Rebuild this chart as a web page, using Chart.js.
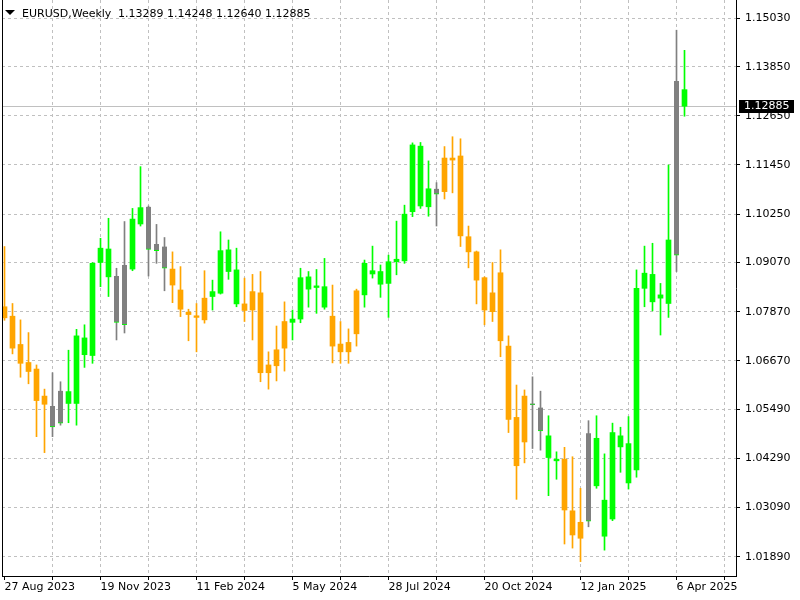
<!DOCTYPE html>
<html lang="en">
<head>
<meta charset="UTF-8">
<title>EURUSD, Weekly</title>
<script src="https://cdn.jsdelivr.net/npm/chart.js"></script>
<style>
  html, body { margin: 0; padding: 0; background: #fff; }
</style>
</head>
<body>
<canvas id="chart" width="800" height="600"></canvas>
<script>
// EURUSD weekly bars, first bar = week of 27 Aug 2023
const symbol = 'EURUSD';
const period = 'Weekly';

const openP = [1.0799,1.0776,1.0707,1.0663,1.0647,1.0561,1.0557,1.0515,1.0592,1.0563,
  1.0723,1.0680,1.0907,1.0940,1.0874,1.0755,1.0891,1.1001,1.1043,1.0936,
  1.0946,1.0891,1.0840,1.0786,1.0777,1.0767,1.0824,1.0832,1.0938,1.0889,
  1.0806,1.0791,1.0833,1.0638,1.0655,1.0698,1.0761,1.0769,1.0872,1.0846,
  1.0848,1.0776,1.0708,1.0689,1.0733,1.0828,1.0887,1.0885,1.0856,1.0909,
  1.0911,1.1031,1.1191,1.1043,1.1087,1.1080,1.1162,1.1167,1.0970,1.0933,
  1.0870,1.0787,1.0882,1.0703,1.0529,1.0469,1.0563,1.0553,1.0484,1.0427,
  1.0427,1.0301,1.0234,1.0276,1.0478,1.0239,1.0281,1.0484,1.0465,1.0401,
  1.0844,1.0878,1.0820,1.0807,1.0925,1.13289];
const highP = [1.0946,1.0807,1.0767,1.0736,1.0657,1.0598,1.0638,1.0616,1.0693,1.0744,
  1.0755,1.0907,1.0966,1.1015,1.0893,1.1007,1.1039,1.1141,1.1045,1.1000,
  1.0968,1.0933,1.0897,1.0793,1.0807,1.0887,1.0864,1.0982,1.0962,1.0942,
  1.0869,1.0878,1.0885,1.0689,1.0752,1.0811,1.0791,1.0893,1.0885,1.0890,
  1.0917,1.0852,1.0763,1.0745,1.0842,1.0913,1.0947,1.0901,1.0925,1.1008,
  1.1047,1.1199,1.1200,1.1155,1.1102,1.1190,1.1214,1.1209,1.0996,1.0935,
  1.0872,1.0907,1.0938,1.0728,1.0608,1.0596,1.0628,1.0593,1.0533,1.0445,
  1.0456,1.0433,1.0356,1.0521,1.0533,1.0440,1.0515,1.0505,1.0531,1.0889,
  1.0947,1.0954,1.0856,1.1145,1.1474,1.14248];
const lowP = [1.0766,1.0684,1.0627,1.0611,1.0482,1.0443,1.0482,1.0510,1.0516,1.0510,
  1.0651,1.0661,1.0848,1.0824,1.0718,1.0735,1.0887,1.0996,1.0874,1.0905,
  1.0838,1.0809,1.0775,1.0716,1.0689,1.0759,1.0791,1.0830,1.0866,1.0799,
  1.0763,1.0718,1.0616,1.0598,1.0618,1.0642,1.0718,1.0760,1.0798,1.0783,
  1.0793,1.0662,1.0661,1.0661,1.0703,1.0798,1.0869,1.0822,1.0773,1.0877,
  1.0905,1.1019,1.1039,1.1020,1.0996,1.1062,1.1077,1.0946,1.0894,1.0806,
  1.0755,1.0763,1.0677,1.0492,1.0329,1.0418,1.0453,1.0449,1.0338,1.0378,
  1.0220,1.0210,1.0177,1.0262,1.0356,1.0205,1.0277,1.0395,1.0354,1.0383,
  1.0799,1.0789,1.0730,1.0773,1.0885,1.12640];
const closeP = [1.0772,1.0698,1.0661,1.0641,1.0570,1.0581,1.0506,1.0594,1.0563,1.0728,
  1.0682,1.0905,1.0942,1.0872,1.0761,1.0901,1.1013,1.1041,1.0939,1.0952,
  1.0893,1.0852,1.0793,1.0780,1.0773,1.0820,1.0836,1.0936,1.0885,1.0806,
  1.0790,1.0836,1.0638,1.0657,1.0694,1.0763,1.0769,1.0870,1.0842,1.0850,
  1.0798,1.0703,1.0689,1.0712,1.0838,1.0905,1.0879,1.0854,1.0909,1.0915,
  1.1025,1.1194,1.1045,1.1087,1.1074,1.1162,1.1157,1.0972,1.0933,1.0864,
  1.0791,1.0833,1.0716,1.0524,1.0411,1.0581,1.0560,1.0496,1.0431,1.0423,
  1.0303,1.0242,1.0273,1.0490,1.0362,1.0327,1.0492,1.0457,1.0369,1.0844,
  1.0881,1.0811,1.0828,1.0962,1.1350,1.12885];

// candle state shown by the terminal: u = up, d = down, n = neutral
const signal = ['d','d','d','d','d','d','n','n','u','u',
  'u','u','u','u','n','n','u','u','n','n',
  'n','d','d','d','d','d','u','u','u','u',
  'd','d','d','d','d','d','u','u','u','u',
  'u','d','d','d','d','u','u','u','u','u',
  'u','u','u','u','n','d','d','d','d','d',
  'd','d','d','d','d','d','n','n','u','u',
  'd','d','d','n','u','u','u','u','u','u',
  'u','u','u','u','n','u'];

const xTickLabels = ['27 Aug 2023','19 Nov 2023','11 Feb 2024','5 May 2024',
  '28 Jul 2024','20 Oct 2024','12 Jan 2025','6 Apr 2025'];
const yTickValues = [1.01890,1.03090,1.04290,1.05490,1.06670,1.07870,
  1.09070,1.10250,1.11450,1.12650,1.13850,1.15030];

const colors = { u: '#00ff00', d: '#ffa500', n: '#808080' };
const FONT = 'DejaVu Sans';
const last = closeP.length - 1;

const wicks = lowP.map((l, i) => ({ x: i, y: [l, highP[i]] }));
const bodies = openP.map((o, i) => ({ x: i, y: [o, closeP[i]] }));

// frame, bid line, price tag and the header text
const terminal = {
  id: 'terminal',
  beforeDatasetsDraw(chart) {
    const { ctx, chartArea, scales } = chart;
    const y = Math.round(scales.y.getPixelForValue(closeP[last])) + 0.5;
    ctx.save();
    ctx.strokeStyle = '#c0c0c0';
    ctx.lineWidth = 1;
    ctx.beginPath();
    ctx.moveTo(chartArea.left, y);
    ctx.lineTo(chartArea.right, y);
    ctx.stroke();
    ctx.restore();
  },
  afterDraw(chart) {
    const { ctx, chartArea, scales } = chart;
    ctx.save();
    ctx.strokeStyle = '#000';
    ctx.lineWidth = 1;
    ctx.beginPath();
    ctx.moveTo(2.5, 0);
    ctx.lineTo(2.5, chartArea.bottom);
    ctx.stroke();

    // price tag
    const y = Math.round(scales.y.getPixelForValue(closeP[last]));
    ctx.fillStyle = '#000';
    ctx.fillRect(739, y - 6, 55, 13);
    ctx.fillStyle = '#fff';
    ctx.font = '11px "' + FONT + '"';
    ctx.textBaseline = 'middle';
    ctx.fillText(closeP[last].toFixed(5), 744, y + 0.5);

    // header
    ctx.fillStyle = '#000';
    ctx.beginPath();
    ctx.moveTo(5, 10);
    ctx.lineTo(15, 10);
    ctx.lineTo(10, 15);
    ctx.closePath();
    ctx.fill();
    ctx.textBaseline = 'alphabetic';
    ctx.fillText(symbol + ',' + period, 22, 17);
    const ohlc = [openP[last], highP[last], lowP[last], closeP[last]].map(v => v.toFixed(5)).join(' ');
    ctx.fillText(ohlc, 118, 17);
    ctx.restore();
  }
};

new Chart(document.getElementById('chart'), {
  type: 'bar',
  data: {
    datasets: [
      {
        data: wicks,
        barThickness: 1,
        backgroundColor: wicks.map((_, i) => colors[signal[i]]),
        grouped: false,
        order: 2
      },
      {
        data: bodies,
        barThickness: 5,
        minBarLength: 1,
        backgroundColor: bodies.map((_, i) => colors[signal[i]]),
        borderColor: colors.u,
        borderWidth: bodies.map((_, i) => signal[i] === 'n' ? { top: 0, right: 0, bottom: 1, left: 0 } : 0),
        borderSkipped: false,
        grouped: false,
        order: 1
      }
    ]
  },
  options: {
    responsive: false,
    animation: false,
    devicePixelRatio: 1,
    layout: { padding: { left: 2, right: 0, top: 0, bottom: 0 } },
    plugins: { legend: { display: false }, tooltip: { enabled: false } },
    scales: {
      x: {
        type: 'linear',
        offset: false,
        min: -0.3125,
        max: 91.4375,
        afterBuildTicks(scale) {
          const t = [];
          for (let v = 0; v <= 90; v += 6) t.push({ value: v });
          scale.ticks = t;
        },
        afterFit(scale) {
          scale.height = 24;
          scale.paddingLeft = 0;
          scale.paddingRight = 0;
        },
        ticks: {
          autoSkip: false,
          maxRotation: 0,
          minRotation: 0,
          align: 'start',
          padding: 1,
          color: '#000',
          font: { family: FONT, size: 11 },
          callback: v => (v % 12 === 0 && xTickLabels[v / 12]) ? xTickLabels[v / 12] : ''
        },
        grid: {
          offset: false,
          // no grid line on the first bar, it sits against the frame
          color: ctx => (ctx.tick && ctx.tick.value === 0) ? 'rgba(0,0,0,0)' : '#c0c0c0',
          tickColor: '#000',
          tickLength: 4,
          tickBorderDash: []
        },
        border: { display: true, color: '#000', width: 1, dash: [3, 3] }
      },
      y: {
        position: 'right',
        min: 1.01419,
        max: 1.15477,
        afterBuildTicks(scale) {
          scale.ticks = yTickValues.map(v => ({ value: v }));
        },
        afterFit(scale) {
          scale.width = 64;
          scale.paddingTop = 0;
          scale.paddingBottom = 0;
        },
        ticks: {
          autoSkip: false,
          padding: 5,
          color: '#000',
          font: { family: FONT, size: 11 },
          callback: v => Number(v).toFixed(5)
        },
        grid: {
          color: '#c0c0c0',
          tickColor: '#000',
          tickLength: 4,
          tickBorderDash: []
        },
        border: { display: true, color: '#000', width: 1, dash: [3, 3] }
      }
    }
  },
  plugins: [terminal]
});
</script>
</body>
</html>
